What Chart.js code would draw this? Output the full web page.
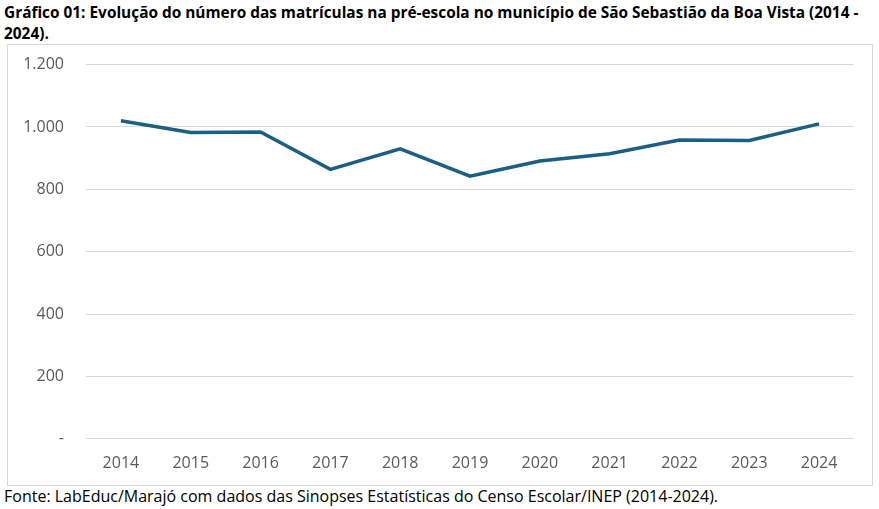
<!DOCTYPE html>
<html>
<head>
<meta charset="utf-8">
<script src="https://cdn.jsdelivr.net/npm/chart.js@4"></script>
<style>
  body { margin: 0; background: #fff; width: 879px; height: 509px; position: relative; overflow: hidden; font-family: "Open Sans", sans-serif; }
  #titulo { position: absolute; left: 4px; top: 2px; font-weight: bold; font-size: 15.4px; line-height: 21px; color: #000; white-space: nowrap; }
  #caixa { position: absolute; left: 7px; top: 44px; width: 864px; height: 440px; border: 1px solid #d9d9d9; overflow: hidden; }
  #plot1 { position: absolute; left: 0; top: -12px; }
  #fonte { position: absolute; left: 4px; top: 485px; font-size: 16px; color: #000; white-space: nowrap; }
</style>
</head>
<body>
<div id="titulo">Gráfico 01: Evolução do número das matrículas na pré-escola no município de São Sebastião da Boa Vista (2014 -<br>2024).</div>
<div id="caixa"><canvas id="plot1" width="864" height="455"></canvas></div>
<div id="fonte">Fonte: LabEduc/Marajó com dados das Sinopses Estatísticas do Censo Escolar/INEP (2014-2024).</div>
<script>
const anos = ['2014', '2015', '2016', '2017', '2018', '2019', '2020', '2021', '2022', '2023', '2024']
const matriculas = [1020, 982, 984, 864, 930, 842, 891, 914, 958, 957, 1010]

const fonteEixo = { size: 16, family: '"Open Sans", sans-serif' }

let ctx = document.getElementById('plot1').getContext('2d')

let grafica1 = new Chart(ctx, {
    type: 'line',
    data: {
        labels: anos,
        datasets: [{
            label: 'Matrículas',
            data: matriculas,
            borderColor: '#1b5f82',
            backgroundColor: '#1b5f82',
            borderWidth: 3.5,
            pointRadius: 0,
            tension: 0
        }]
    },
    options: {
        responsive: false,
        animation: false,
        layout: { padding: { top: 6, right: 18, bottom: 0, left: 0 } },
        plugins: { legend: { display: false }, tooltip: { enabled: false } },
        scales: {
            x: {
                offset: true,
                grid: { display: false, drawTicks: false },
                border: { display: false },
                ticks: { color: '#595959', font: fonteEixo, padding: 15, maxRotation: 0 }
            },
            y: {
                min: 0,
                max: 1200,
                afterFit: (axis) => { axis.width = 78 },
                grid: { color: '#d9d9d9', lineWidth: 1, drawTicks: false },
                border: { display: false },
                ticks: {
                    stepSize: 200,
                    color: '#595959',
                    padding: 22,
                    font: fonteEixo,
                    callback: (v) => v == 0 ? '-' : v.toLocaleString('pt-BR')
                }
            }
        }
    }
})
</script>
</body>
</html>
